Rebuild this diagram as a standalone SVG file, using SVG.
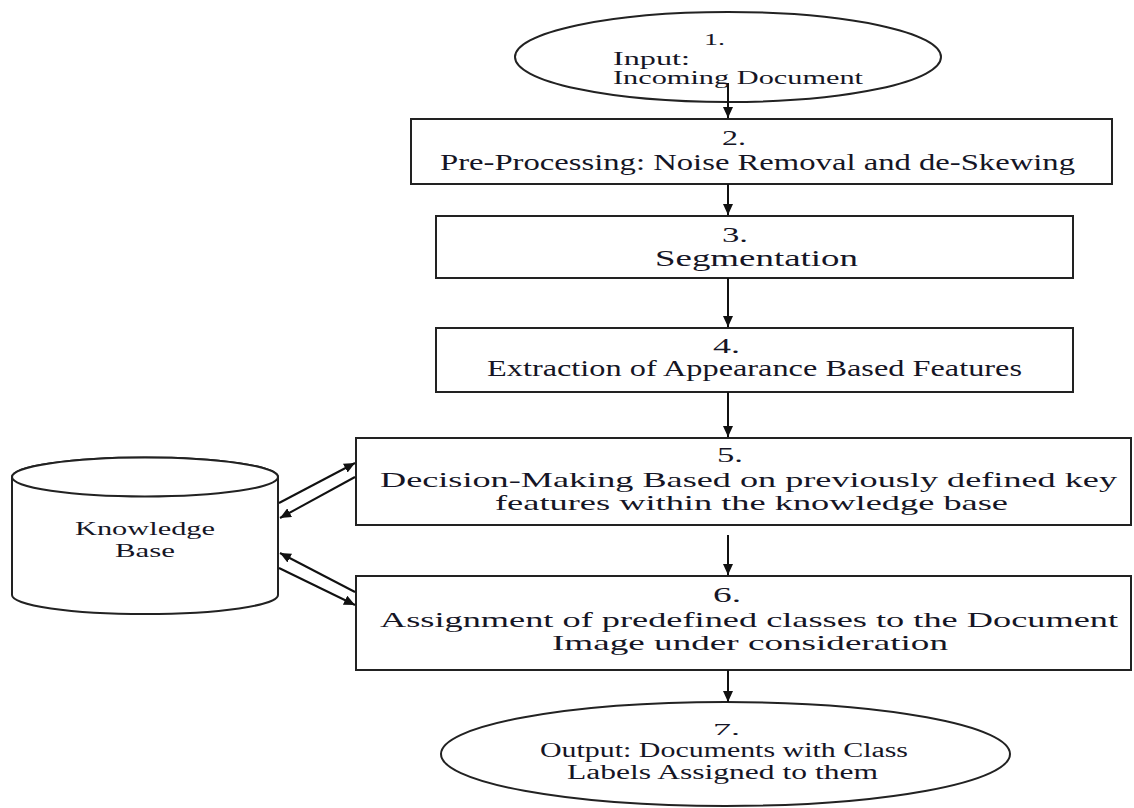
<svg xmlns="http://www.w3.org/2000/svg" width="1134" height="808" viewBox="0 0 1134 808">
<defs>
<marker id="ah" markerUnits="userSpaceOnUse" markerWidth="12" markerHeight="10" refX="11" refY="5" orient="auto">
<path d="M0,0 L11,5 L0,10 z" fill="#111"/>
</marker>
<style>
.shape{fill:#fff;stroke:#222;stroke-width:2}
.t{font-family:"Liberation Serif","Times New Roman",serif;fill:#151525}
.c{stroke:#111;stroke-width:2;fill:none;marker-end:url(#ah)}
</style>
</defs>
<rect width="1134" height="808" fill="#fff"/>
<g id="n1">
<ellipse class="shape" cx="728" cy="57" rx="213" ry="45"/>
<text class="t" x="704" y="45" font-size="17" textLength="21" lengthAdjust="spacingAndGlyphs">1.</text>
<text class="t" x="613" y="65" font-size="18" textLength="77" lengthAdjust="spacingAndGlyphs">Input:</text>
<text class="t" x="613" y="84" font-size="18" textLength="250" lengthAdjust="spacingAndGlyphs">Incoming Document</text>
</g>
<g id="n2">
<rect class="shape" x="411" y="119" width="701" height="65"/>
<text class="t" x="722" y="145" font-size="21" textLength="24" lengthAdjust="spacingAndGlyphs">2.</text>
<text class="t" x="440" y="170" font-size="23" textLength="635" lengthAdjust="spacingAndGlyphs">Pre-Processing: Noise Removal and de-Skewing</text>
</g>
<g id="n3">
<rect class="shape" x="436" y="216" width="637" height="62"/>
<text class="t" x="722" y="242" font-size="21" textLength="26" lengthAdjust="spacingAndGlyphs">3.</text>
<text class="t" x="655" y="266" font-size="23" textLength="203" lengthAdjust="spacingAndGlyphs">Segmentation</text>
</g>
<g id="n4">
<rect class="shape" x="436" y="328" width="637" height="64"/>
<text class="t" x="713" y="353" font-size="21" textLength="27" lengthAdjust="spacingAndGlyphs">4.</text>
<text class="t" x="487" y="376" font-size="23" textLength="535" lengthAdjust="spacingAndGlyphs">Extraction of Appearance Based Features</text>
</g>
<g id="n5">
<rect class="shape" x="356" y="438" width="775" height="87"/>
<text class="t" x="717" y="462" font-size="21" textLength="26" lengthAdjust="spacingAndGlyphs">5.</text>
<text class="t" x="380" y="487" font-size="22" textLength="737" lengthAdjust="spacingAndGlyphs">Decision-Making Based on previously defined key</text>
<text class="t" x="495" y="510" font-size="22" textLength="513" lengthAdjust="spacingAndGlyphs">features within the knowledge base</text>
</g>
<g id="n6">
<rect class="shape" x="356" y="576" width="775" height="94"/>
<text class="t" x="713" y="602" font-size="21" textLength="28" lengthAdjust="spacingAndGlyphs">6.</text>
<text class="t" x="380" y="627" font-size="22" textLength="738" lengthAdjust="spacingAndGlyphs">Assignment of predefined classes to the Document</text>
<text class="t" x="552" y="650" font-size="22" textLength="396" lengthAdjust="spacingAndGlyphs">Image under consideration</text>
</g>
<g id="n7">
<ellipse class="shape" cx="725.5" cy="754" rx="284.5" ry="52"/>
<text class="t" x="713" y="735" font-size="17" textLength="27" lengthAdjust="spacingAndGlyphs">7.</text>
<text class="t" x="540" y="757" font-size="20" textLength="368" lengthAdjust="spacingAndGlyphs">Output: Documents with Class</text>
<text class="t" x="567" y="779" font-size="20" textLength="311" lengthAdjust="spacingAndGlyphs">Labels Assigned to them</text>
</g>
<g id="kb">
<path class="shape" d="M12,477 L12,595 A133,19 0 0 0 278,595 L278,477 A133,19.5 0 0 0 12,477 Z"/>
<ellipse class="shape" cx="145" cy="477" rx="133" ry="19.5"/>
<text class="t" x="145" y="535" font-size="19" text-anchor="middle" textLength="140" lengthAdjust="spacingAndGlyphs">Knowledge</text>
<text class="t" x="145" y="557" font-size="19" text-anchor="middle" textLength="60" lengthAdjust="spacingAndGlyphs">Base</text>
</g>
<g id="connectors">
<line class="c" x1="728" y1="83" x2="728" y2="118"/>
<line class="c" x1="728" y1="184" x2="728" y2="215"/>
<line class="c" x1="728" y1="278" x2="728" y2="327"/>
<line class="c" x1="728" y1="392" x2="728" y2="437"/>
<line class="c" x1="728" y1="535" x2="728" y2="575"/>
<line class="c" x1="728" y1="670" x2="728" y2="702"/>
<line class="c" x1="279" y1="503" x2="355" y2="463"/>
<line class="c" x1="355" y1="477" x2="280" y2="518"/>
<line class="c" x1="355" y1="592" x2="280" y2="553"/>
<line class="c" x1="279" y1="568" x2="355" y2="605"/>
</g>
</svg>
